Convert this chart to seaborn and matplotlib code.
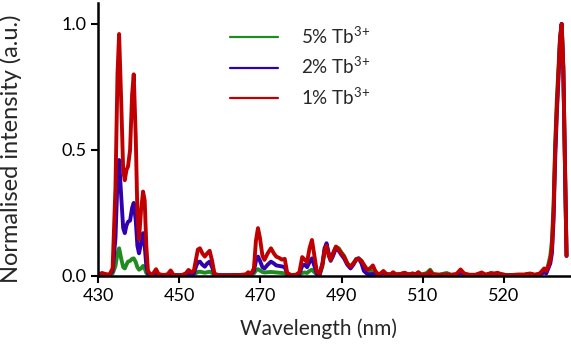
import pandas as pd
import numpy as np
import matplotlib
matplotlib.use("Agg")
import matplotlib.pyplot as plt
import seaborn as sns

# emission spectra (normalised)
wavelength = [430.0, 431.0, 431.8, 432.8, 433.6, 434.3, 434.8, 435.2, 435.7, 436.2,
              436.6, 437.0, 437.4, 437.9, 438.4, 438.8, 439.3, 439.7, 440.1, 440.6,
              441.1, 441.5, 441.9, 442.3, 443.0, 443.6, 444.3, 444.9, 446.0, 447.1,
              447.9, 448.6, 450.5, 451.6, 452.3, 453.0, 453.6, 454.2, 454.6, 455.1,
              455.7, 456.3, 456.9, 457.5, 458.1, 458.7, 460.0, 462.5, 465.0, 466.4,
              467.0, 467.6, 468.4, 468.9, 469.4, 469.9, 470.5, 471.0, 471.8, 472.6,
              473.3, 473.9, 474.6, 475.3, 476.0, 476.6, 477.5, 478.8, 479.6, 480.3,
              480.9, 481.5, 482.1, 482.7, 483.3, 483.9, 484.6, 485.3, 485.8, 486.3,
              486.8, 487.3, 487.9, 488.6, 489.3, 489.9, 490.6, 491.4, 492.2, 492.9,
              493.6, 494.2, 494.9, 495.5, 496.3, 497.0, 497.7, 498.3, 498.9, 499.6,
              500.3, 501.0, 502.0, 502.7, 503.4, 504.5, 505.5, 506.5, 507.5, 508.2,
              508.9, 509.6, 511.0, 511.8, 512.5, 514.0, 515.9, 517.0, 518.3, 519.3,
              520.2, 521.5, 523.0, 524.5, 525.5, 526.8, 527.6, 528.4, 529.2, 530.5,
              532.0, 533.5, 535.0, 536.4, 537.5, 538.8, 539.9, 540.4, 540.9, 541.4,
              541.8, 542.2, 542.6, 543.0, 543.4, 543.8, 544.2, 544.6, 545.0, 545.4]

tb5 = [0.005, 0.008, 0.005, 0.003, 0.010, 0.040, 0.090, 0.110, 0.070, 0.035,
       0.030, 0.045, 0.057, 0.060, 0.068, 0.070, 0.055, 0.035, 0.025, 0.030,
       0.040, 0.030, 0.012, 0.005, 0.004, 0.005, 0.006, 0.004, 0.004, 0.004,
       0.005, 0.003, 0.003, 0.004, 0.006, 0.005, 0.006, 0.012, 0.016, 0.017,
       0.015, 0.013, 0.015, 0.017, 0.012, 0.004, 0.003, 0.003, 0.004, 0.004,
       0.005, 0.004, 0.010, 0.022, 0.027, 0.022, 0.016, 0.014, 0.015, 0.016,
       0.015, 0.014, 0.013, 0.012, 0.010, 0.004, 0.003, 0.003, 0.005, 0.012,
       0.014, 0.012, 0.020, 0.025, 0.015, 0.006, 0.005, 0.040, 0.100, 0.120,
       0.090, 0.070, 0.090, 0.115, 0.110, 0.095, 0.080, 0.050, 0.035, 0.050,
       0.068, 0.070, 0.060, 0.040, 0.020, 0.015, 0.020, 0.010, 0.006, 0.008,
       0.015, 0.008, 0.006, 0.012, 0.006, 0.008, 0.012, 0.006, 0.010, 0.006,
       0.014, 0.005, 0.012, 0.025, 0.008, 0.005, 0.012, 0.004, 0.005, 0.015,
       0.005, 0.004, 0.004, 0.008, 0.004, 0.010, 0.006, 0.010, 0.006, 0.003,
       0.003, 0.004, 0.004, 0.008, 0.004, 0.006, 0.020, 0.015, 0.045, 0.080,
       0.140, 0.280, 0.520, 0.700, 0.820, 0.950, 1.000, 0.820, 0.450, 0.080]

tb2 = [0.005, 0.008, 0.005, 0.003, 0.020, 0.150, 0.380, 0.460, 0.320, 0.190,
       0.170, 0.200, 0.215, 0.220, 0.270, 0.290, 0.220, 0.120, 0.090, 0.130,
       0.170, 0.120, 0.040, 0.010, 0.005, 0.006, 0.008, 0.004, 0.004, 0.004,
       0.005, 0.003, 0.003, 0.004, 0.008, 0.008, 0.010, 0.040, 0.055, 0.057,
       0.045, 0.037, 0.050, 0.057, 0.035, 0.006, 0.003, 0.003, 0.004, 0.005,
       0.006, 0.005, 0.020, 0.060, 0.077, 0.060, 0.035, 0.030, 0.045, 0.057,
       0.050, 0.042, 0.040, 0.038, 0.035, 0.010, 0.003, 0.004, 0.010, 0.040,
       0.045, 0.035, 0.055, 0.070, 0.040, 0.010, 0.006, 0.050, 0.110, 0.130,
       0.090, 0.060, 0.080, 0.110, 0.100, 0.085, 0.070, 0.045, 0.030, 0.045,
       0.065, 0.070, 0.050, 0.020, 0.008, 0.006, 0.008, 0.005, 0.004, 0.006,
       0.012, 0.006, 0.005, 0.010, 0.005, 0.006, 0.010, 0.005, 0.008, 0.005,
       0.010, 0.005, 0.005, 0.012, 0.005, 0.004, 0.005, 0.004, 0.005, 0.012,
       0.005, 0.004, 0.004, 0.008, 0.004, 0.008, 0.006, 0.008, 0.006, 0.003,
       0.003, 0.004, 0.004, 0.008, 0.004, 0.005, 0.015, 0.010, 0.030, 0.050,
       0.090, 0.220, 0.460, 0.640, 0.780, 0.930, 1.000, 0.830, 0.460, 0.080]

tb1 = [0.005, 0.012, 0.008, 0.005, 0.030, 0.350, 0.800, 0.960, 0.700, 0.420,
       0.380, 0.420, 0.435, 0.500, 0.720, 0.800, 0.550, 0.250, 0.145, 0.260,
       0.335, 0.300, 0.120, 0.020, 0.005, 0.010, 0.027, 0.008, 0.004, 0.006,
       0.022, 0.004, 0.003, 0.010, 0.024, 0.015, 0.020, 0.070, 0.105, 0.110,
       0.090, 0.077, 0.090, 0.100, 0.060, 0.008, 0.003, 0.003, 0.004, 0.006,
       0.015, 0.006, 0.030, 0.140, 0.190, 0.150, 0.080, 0.064, 0.090, 0.110,
       0.090, 0.077, 0.072, 0.065, 0.068, 0.012, 0.004, 0.005, 0.015, 0.075,
       0.065, 0.055, 0.110, 0.143, 0.080, 0.017, 0.010, 0.050, 0.100, 0.120,
       0.080, 0.064, 0.090, 0.117, 0.105, 0.090, 0.077, 0.050, 0.037, 0.050,
       0.065, 0.068, 0.060, 0.045, 0.025, 0.030, 0.042, 0.020, 0.008, 0.010,
       0.020, 0.008, 0.006, 0.015, 0.006, 0.008, 0.013, 0.006, 0.010, 0.006,
       0.015, 0.005, 0.006, 0.020, 0.006, 0.005, 0.006, 0.005, 0.008, 0.026,
       0.010, 0.005, 0.005, 0.014, 0.005, 0.012, 0.010, 0.013, 0.008, 0.004,
       0.004, 0.006, 0.006, 0.010, 0.005, 0.010, 0.030, 0.020, 0.037, 0.065,
       0.110, 0.250, 0.500, 0.660, 0.800, 0.940, 1.000, 0.830, 0.460, 0.080]

series_names = ["5% Tb$^{3{+}}$", "2% Tb$^{3{+}}$", "1% Tb$^{3{+}}$"]
series_colors = ["#1e8c1e", "#3000b0", "#c00000"]

x_ticks = [430, 450, 470, 490, 510, 530]
x_tick_labels = ["430", "450", "470", "490", "510", "520"]
y_ticks = [0.0, 0.5, 1.0]

df = pd.DataFrame({
    "Wavelength": wavelength * 3,
    "Intensity": tb5 + tb2 + tb1,
    "Sample": [series_names[0]] * len(tb5) + [series_names[1]] * len(tb2) + [series_names[2]] * len(tb1),
})

sns.set_style("ticks")
plt.rcParams["font.family"] = ["Lato", "DejaVu Sans"]
plt.rcParams["mathtext.default"] = "regular"

fig = plt.figure(figsize=(5.71, 3.47), dpi=100)
ax = fig.add_axes([98 / 571, 71 / 347, 473 / 571, 273 / 347])

sns.lineplot(data=df, x="Wavelength", y="Intensity", hue="Sample",
             hue_order=series_names, palette=series_colors,
             linewidth=2.8, sort=False, estimator=None, ax=ax)
for line in ax.lines:
    line.set_solid_joinstyle("round")
    line.set_solid_capstyle("round")

ax.set_xlim(430, 546.5)
ax.set_ylim(0, 1.083)
ax.set_xticks(x_ticks)
ax.set_xticklabels(x_tick_labels)
ax.set_yticks(y_ticks)
ax.set_yticklabels(["0.0", "0.5", "1.0"])
ax.tick_params(labelsize=13, width=1.5, length=5, color="black", labelcolor="black")

for side in ["top", "right"]:
    ax.spines[side].set_visible(False)
for side in ["left", "bottom"]:
    ax.spines[side].set_linewidth(1.8)
    ax.spines[side].set_color("black")

ax.set_xlabel("Wavelength (nm)", fontsize=15)
ax.set_ylabel("Normalised intensity (a.u.)", fontsize=17)
ax.xaxis.set_label_coords((318 - 98) / 473, -0.155)
ax.yaxis.set_label_coords(-0.16, (276 - 149) / 273)

leg = ax.legend(loc="upper left", bbox_to_anchor=((222 - 98) / 473, (276 - 18) / 273),
                frameon=False, fontsize=13.5, handlelength=2.6, handletextpad=1.2,
                labelspacing=0.5, borderaxespad=0)
for line in leg.get_lines():
    line.set_linewidth(1.6)

fig.savefig("out.png", dpi=100)
